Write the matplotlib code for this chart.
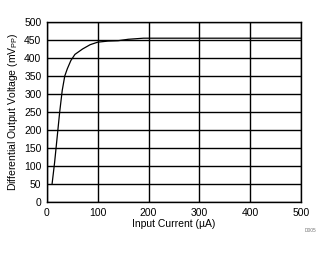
import matplotlib
matplotlib.use("Agg")
import matplotlib.pyplot as plt

# data
current = [10, 15, 20, 25, 30, 35, 40, 47, 55, 70, 85, 100, 120, 140, 160, 190, 250, 350, 500]
voltage = [50, 110, 180, 250, 310, 350, 370, 393, 410, 425, 437, 444, 447, 448, 452, 455, 455, 455, 455]
xticks = [0, 100, 200, 300, 400, 500]
yticks = [0, 50, 100, 150, 200, 250, 300, 350, 400, 450, 500]

plt.rcParams['font.family'] = ['Liberation Sans', 'DejaVu Sans']

fig = plt.figure(figsize=(3.3, 2.54), dpi=100)
ax = fig.add_axes([0.1424, 0.2047, 0.912 - 0.1424, 0.9134 - 0.2047])

ax.plot(current, voltage, color='black', lw=0.9)

ax.set_xlim(0, 500)
ax.set_ylim(0, 500)
ax.set_xticks(xticks)
ax.set_yticks(yticks)
ax.tick_params(length=0, labelsize=7.5, pad=4)
ax.grid(True, color='black', lw=1.0)
ax.set_axisbelow(True)
for s in ax.spines.values():
    s.set_color('black')
    s.set_linewidth(1.0)

ax.set_xlabel("Input Current (\u00b5A)", fontsize=7.5, labelpad=1)
ax.set_ylabel("Differential Output Voltage (mV$_{\\mathregular{PP}}$)", fontsize=7.5, labelpad=3)

fig.text(0.958, 0.085, "D005", fontsize=3.5, color='#777777', ha='right')

fig.savefig("out.png", dpi=100)
